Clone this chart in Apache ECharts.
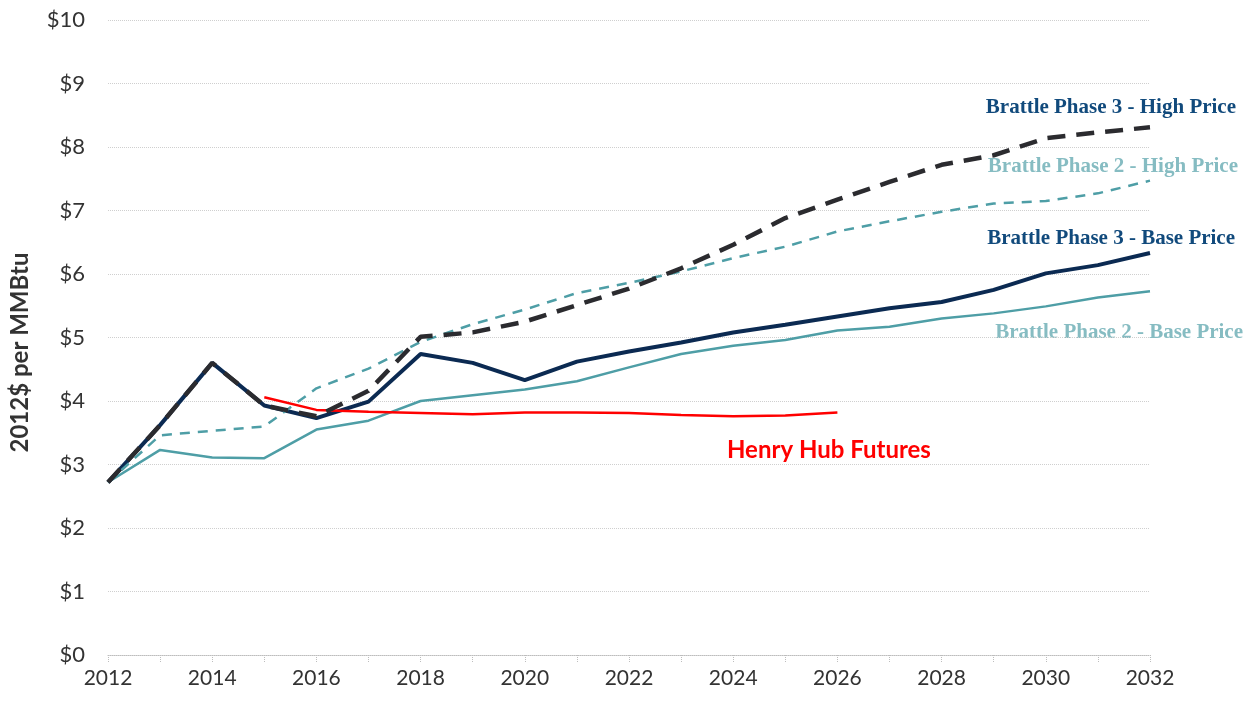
<!DOCTYPE html>
<html>
<head>
<meta charset="utf-8">
<script src="https://cdn.jsdelivr.net/npm/echarts@6/dist/echarts.min.js"></script>
<style>
  html, body { margin: 0; padding: 0; background: #fff; }
  #chart { width: 1254px; height: 702px; }
</style>
</head>
<body>
<div id="chart"></div>
<script>
// years on the x axis
const years = [];
for (let y = 2012; y <= 2032; y++) years.push(String(y));

// $ per MMBtu
const phase3Base = [2.72, 3.62, 4.60, 3.93, 3.73, 3.99, 4.74, 4.60, 4.33, 4.62, 4.78,
  4.92, 5.08, 5.20, 5.33, 5.46, 5.56, 5.75, 6.01, 6.14, 6.33];
const phase2Base = [2.72, 3.23, 3.11, 3.10, 3.55, 3.69, 4.00, 4.09, 4.18, 4.31, 4.53,
  4.74, 4.87, 4.96, 5.11, 5.17, 5.30, 5.38, 5.49, 5.63, 5.73];
const phase3High = [2.72, 3.62, 4.60, 3.93, 3.76, 4.16, 5.01, 5.08, 5.25, 5.51, 5.77,
  6.09, 6.46, 6.88, 7.17, 7.45, 7.72, 7.87, 8.14, 8.23, 8.31];
const phase2High = [2.72, 3.46, 3.53, 3.60, 4.20, 4.51, 4.93, 5.21, 5.44, 5.70, 5.86,
  6.04, 6.25, 6.43, 6.67, 6.83, 6.98, 7.11, 7.15, 7.27, 7.47];
const henryHub = [null, null, null, 4.06, 3.86, 3.83, 3.81, 3.79, 3.82, 3.82, 3.81,
  3.78, 3.76, 3.77, 3.82, null, null, null, null, null, null];

const navy = '#0b2a52';
const teal = '#4e9ea6';
const labelFont = '"Liberation Serif", "DejaVu Serif", serif';
const sans = 'Lato, "Open Sans", sans-serif';

const myChart = echarts.init(document.getElementById('chart'));

function lineSeries(name, data, color, width, dash) {
  return {
    name,
    type: 'line',
    data,
    symbol: 'none',
    connectNulls: false,
    lineStyle: { color, width, type: dash || 'solid', cap: 'butt' },
    silent: true
  };
}

myChart.setOption({
  animation: false,
  backgroundColor: '#fff',
  grid: { left: 107, right: 104, top: 20, bottom: 47 },
  xAxis: {
    type: 'category',
    data: years,
    boundaryGap: false,
    axisLine: { lineStyle: { color: '#bdbdbd', type: 'dotted', width: 1 } },
    axisTick: { show: true, interval: 0, length: 7, lineStyle: { color: '#bdbdbd', type: 'dotted' } },
    axisLabel: {
      interval: 1,
      color: '#333',
      fontSize: 21,
      fontFamily: sans,
      margin: 13
    },
    splitLine: { show: false }
  },
  yAxis: {
    type: 'value',
    min: 0,
    max: 10,
    interval: 1,
    name: '2012$ per MMBtu',
    nameLocation: 'middle',
    nameGap: 76,
    nameRotate: 90,
    nameTextStyle: {
      color: '#333',
      fontSize: 24,
      fontWeight: 'bold',
      fontFamily: sans,
      padding: [0, 30, 0, 0]
    },
    axisLine: { show: false },
    axisTick: { show: false },
    axisLabel: {
      formatter: '${value}',
      color: '#333',
      fontSize: 22,
      fontFamily: sans,
      margin: 23
    },
    splitLine: { lineStyle: { color: '#cfcfcf', type: 'dotted', width: 1 } }
  },
  series: [
    lineSeries('Brattle Phase 2 - Base Price', phase2Base, teal, 2.5),
    lineSeries('Brattle Phase 3 - Base Price', phase3Base, navy, 4),
    lineSeries('Brattle Phase 2 - High Price', phase2High, teal, 2.5, [10, 8]),
    lineSeries('Henry Hub Futures', henryHub, '#ff0000', 2.5),
    lineSeries('Brattle Phase 3 - High Price', phase3High, '#2b2b2f', 4.5, [18, 11])
  ],
  graphic: [
    { type: 'text', right: 18, top: 97, style: { text: 'Brattle Phase 3 - High Price', fill: '#114a7c', font: 'bold 21px ' + labelFont } },
    { type: 'text', right: 16, top: 156, style: { text: 'Brattle Phase 2 - High Price', fill: '#86bcc2', font: 'bold 21px ' + labelFont } },
    { type: 'text', right: 19, top: 228, style: { text: 'Brattle Phase 3 - Base Price', fill: '#114a7c', font: 'bold 21px ' + labelFont } },
    { type: 'text', right: 11, top: 322, style: { text: 'Brattle Phase 2 - Base Price', fill: '#86bcc2', font: 'bold 21px ' + labelFont } },
    { type: 'text', left: 727, top: 438, style: { text: 'Henry Hub Futures', fill: '#ff0000', font: 'bold 24px ' + sans } }
  ]
});
</script>
</body>
</html>
